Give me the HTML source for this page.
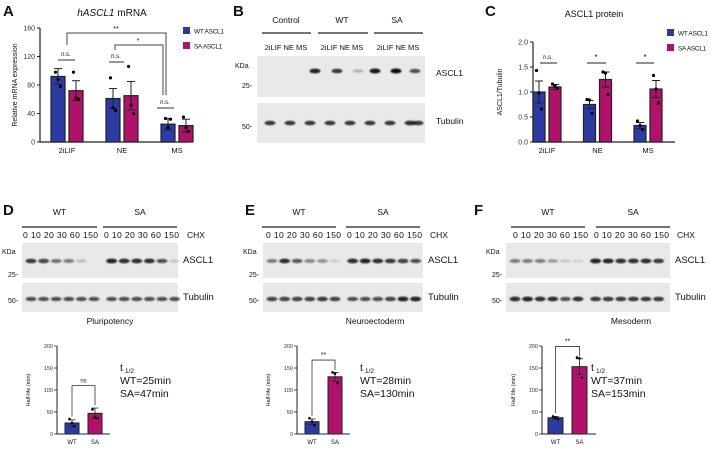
<!DOCTYPE html>
<html><head><meta charset="utf-8">
<style>
html,body{margin:0;padding:0;background:#fff;}
svg{display:block;font-family:"Liberation Sans",Arial,sans-serif;}
</style></head>
<body>
<svg id="fig" width="711" height="449" viewBox="0 0 711 449" xmlns="http://www.w3.org/2000/svg">
<defs>
<filter id="blur" x="-20%" y="-100%" width="140%" height="300%"><feGaussianBlur stdDeviation="0.8"/></filter>
</defs>
<g id="root"></g>
</svg>
<script>
// ---------- data ----------
const catsA = ["2iLIF","NE","MS"];
const wtA = [92, 61, 25];
const saA = [72, 65, 23];
const wtAErr = [11, 14, 8];
const saAErr = [14, 20, 9];
const wtADots = [[98,88,78],[90,48,44],[33,20,32]];
const saADots = [[98,62,60],[106,52,40],[35,20,15]];
const ticksA = [0,40,80,120,160];

const catsC = ["2iLIF","NE","MS"];
const wtC = [1.0, 0.75, 0.33];
const saC = [1.1, 1.25, 1.06];
const wtCErr = [0.22, 0.08, 0.06];
const saCErr = [0.05, 0.15, 0.17];
const wtCDots = [[1.43,0.98,0.66],[0.85,0.84,0.57],[0.42,0.33,0.25]];
const saCDots = [[1.16,1.12,1.08],[1.4,1.38,0.95],[1.33,1.06,0.78]];
const ticksC = [0,0.5,1.0,1.5,2.0];

const halfCats = ["WT","SA"];
const halfD = [25, 47];
const halfE = [28, 130];
const halfF = [37, 153];
const halfDErr = [7, 12];
const halfEErr = [6, 10];
const halfFErr = [3, 18];
const halfDDots = [[34,25,18],[56,38,36]];
const halfEDots = [[36,28,20],[140,137,116]];
const halfFDots = [[40,37,34],[174,172,128]];
const halfTicks = [0,50,100,150,200];

// blot band intensities (0..1)
const blotB_ascl = [0,0,0,0.9,0.8,0.25,0.95,1,0.7];
const blotB_tub = [0.8,0.8,0.8,0.8,0.8,0.8,0.8,0.85,0.8];
const blotD_ascl = [0.8,0.75,0.55,0.5,0.2,0,0.9,0.85,0.85,0.85,0.7,0.15];
const blotD_tub = [0.7,0.7,0.7,0.7,0.7,0.7,0.7,0.7,0.7,0.7,0.7,0.7];
const blotE_ascl = [0.5,0.85,0.65,0.45,0.4,0.12,0.85,0.9,0.85,0.8,0.75,0.7];
const blotE_tub = [0.75,0.75,0.75,0.75,0.8,0.75,0.7,0.7,0.7,0.75,0.9,0.9];
const blotF_ascl = [0.5,0.5,0.5,0.35,0.15,0.1,0.9,0.9,0.85,0.85,0.85,0.8];
const blotF_tub = [0.85,0.9,0.85,0.85,0.7,0.85,0.8,0.8,0.8,0.8,0.8,0.8];

const BLUE = "#2c3aa4", MAG = "#b3106c";
// ---------- helpers ----------
const NS = "http://www.w3.org/2000/svg";
const root = document.getElementById("root");
function el(tag, attrs, parent, text){
  const e = document.createElementNS(NS, tag);
  for (const k in attrs) e.setAttribute(k, attrs[k]);
  if (text !== undefined) e.textContent = text;
  (parent || root).appendChild(e);
  return e;
}
function txt(x,y,s,size,opts){
  const o = Object.assign({x:x,y:y,"font-size":size,fill:"#111"}, opts||{});
  const t = el("text", o, null, s);
  
  
  return t;
}
function line(x1,y1,x2,y2,w,c){
  return el("line",{x1:x1,y1:y1,x2:x2,y2:y2,stroke:c||"#222","stroke-width":w||1});
}

function groupChart(cfg, cats, wt, sa, wtE, saE, wtD, saD, ticks){
  const g = el("g",{});
  
  
  const y = v => cfg.y0 - (v - ticks[0])/(ticks[ticks.length-1]-ticks[0])*(cfg.y0-cfg.y1);
  line(cfg.ax, cfg.y1, cfg.ax, cfg.y0+0.5, 1.2);
  line(cfg.ax, cfg.y0, cfg.axEnd, cfg.y0, 1.2);
  ticks.forEach(t=>{
    line(cfg.ax-3, y(t), cfg.ax, y(t), 1);
    txt(cfg.ax-5, y(t)+2.5, cfg.fmt(t), 7, {"text-anchor":"end",fill:"#333"});
  });
  cats.forEach((c,i)=>{
    const cx = cfg.c0 + i*cfg.step;
    [[wt,wtE,wtD,BLUE,-1],[sa,saE,saD,MAG,1]].forEach(([vals,errs,dots,col,side])=>{
      const bx = side<0 ? cx - cfg.gap/2 - cfg.bw : cx + cfg.gap/2;
      const r = el("rect",{x:bx,y:y(vals[i]),width:cfg.bw,height:cfg.y0-y(vals[i]),fill:col,stroke:"#222","stroke-width":1.2});
      
      
      const mx = bx + cfg.bw/2;
      line(mx, y(vals[i]-errs[i]), mx, y(vals[i]+errs[i]), 1);
      line(mx-4, y(vals[i]+errs[i]), mx+4, y(vals[i]+errs[i]), 1);
      line(mx-4, y(vals[i]-errs[i]), mx+4, y(vals[i]-errs[i]), 1);
      dots[i].forEach((d,k)=>{
        const dd = el("circle",{cx:mx+(k-1)*2.5,cy:y(d),r:1.6,fill:"#000"});
        
        
      });
    });
    txt(cx, cfg.y0+11, c, 7.5, {"text-anchor":"middle"});
  });
  const yl = txt(0,0,cfg.ylab,7,{"text-anchor":"middle",transform:`translate(${cfg.ylx},${(cfg.y0+cfg.y1)/2}) rotate(-90)`});
  
  [["WT ASCL1",BLUE],["SA ASCL1",MAG]].forEach(([s,col],k)=>{
    const r = el("rect",{x:cfg.lx,y:cfg.ly+k*15-4,width:7,height:7,fill:col});
    
    
    txt(cfg.lx+11, cfg.ly+k*15+2.5, s, 6.5, {"letter-spacing":"-0.3"});
  });
  return y;
}

function halfChart(ox, ax, axEnd, b0, bw, vals, errs, dots, sig, name){
  const y0=434, y1=346;
  const y = v => y0 - v/200*(y0 - y1);
  line(ax, y1, ax, y0+0.5, 1);
  line(ax, y0, axEnd, y0, 1);
  halfTicks.forEach(t=>{
    line(ax-3, y(t), ax, y(t), 0.8);
    txt(ax-4, y(t)+2, String(t), 5.5, {"text-anchor":"end",fill:"#333"});
  });
  txt(0,0,name==="f"?"Half life (min)":"Half-life (min)",5.5,{"text-anchor":"middle",transform:`translate(${ax-27},${(y0+y1)/2}) rotate(-90)`});
  const centers=[];
  halfCats.forEach((c,i)=>{
    const bx = b0 + i*(bw+9);
    const col = i===0?BLUE:MAG;
    const r = el("rect",{x:bx,y:y(vals[i]),width:bw,height:y0-y(vals[i]),fill:col,stroke:"#222","stroke-width":1});
    
    
    const mx = bx+bw/2; centers.push(mx);
    line(mx, y(vals[i]-errs[i]), mx, y(vals[i]+errs[i]), 0.8);
    line(mx-3.5, y(vals[i]+errs[i]), mx+3.5, y(vals[i]+errs[i]), 0.8);
    line(mx-3.5, y(vals[i]-errs[i]), mx+3.5, y(vals[i]-errs[i]), 0.8);
    dots[i].forEach((d,k)=>{
      const dd = el("circle",{cx:mx+(k-1)*2.5,cy:y(d),r:1.3,fill:"#000"});
      
      
    });
    txt(mx, y0+10, c, 6, {"text-anchor":"middle"});
  });
  const top = y(Math.max(vals[0]+errs[0], vals[1]+errs[1]) + 28);
  const topC = Math.min(top, y(110));
  el("polyline",{points:`${centers[0]},${y(vals[0]+errs[0]+8)} ${centers[0]},${topC} ${centers[1]},${topC} ${centers[1]},${y(vals[1]+errs[1]+6)}`,fill:"none",stroke:"#333","stroke-width":0.8});
  txt((centers[0]+centers[1])/2, topC-3, sig, sig==="ns"?6:7, {"text-anchor":"middle"});
  txt(ox+120, 371, "t", 10.5); txt(ox+125, 373, "1/2", 6.5);
  txt(ox+120, 384, "WT="+vals[0]+"min", 10.5);
  txt(ox+120, 397, "SA="+vals[1]+"min", 10.5);
}

function blot(x1,x2,yTop,yBot,bandY,ints,lanes,name){
  const r = el("rect",{x:x1,y:yTop,width:x2-x1,height:yBot-yTop,fill:"#e9e9e9"});
  
  
  ints.forEach((v,i)=>{
    if (v<=0) return;
    el("ellipse",{cx:lanes[i],cy:bandY,rx:5.5,ry:1.4+v*1.1,fill:"#111",opacity:v,filter:"url(#blur)"});
  });
}
function laneXs(start, step, n, gapIdx, gap){
  const a=[]; for(let i=0;i<n;i++) a.push(start+i*step+(i>=gapIdx?gap:0)); return a;
}

// ---------- Panel letters ----------
[["A",3,16],["B",233,16],["C",485,16],["D",3,215],["E",245,215],["F",474,215]].forEach(([s,x,yy])=>{
  const t = txt(x,yy,s,15,{"font-weight":"bold"});
  
});

// ---------- Panel A ----------
const tA = el("text",{x:112,y:16,"font-size":10,"text-anchor":"middle",fill:"#111"});
 
el("tspan",{"font-style":"italic"},tA,"hASCL1");
el("tspan",{},tA," mRNA");
groupChart({name:"chart-a",ax:40,axEnd:188,y0:142,y1:28,c0:67,step:55,bw:14,gap:4,fmt:t=>String(t),ylab:"Relative mRNA expression",ylx:17,lx:183,ly:31},
  catsA, wtA, saA, wtAErr, saAErr, wtADots, saADots, ticksA);
el("polyline",{points:"67,45 67,33 166,33 166,95",fill:"none",stroke:"#444","stroke-width":1});
el("polyline",{points:"115,50 115,45 163,45 163,95",fill:"none",stroke:"#444","stroke-width":1});
txt(116,31,"**",7,{"text-anchor":"middle"});
txt(138,43,"*",7,{"text-anchor":"middle"});
line(58,60,75,60,1,"#333"); txt(66,56,"n.s.",6,{"text-anchor":"middle"});
line(109,62,124,62,1,"#333"); txt(116,58,"n.s.",6,{"text-anchor":"middle"});
line(157,108,174,108,1,"#333"); txt(165,104,"n.s.",6,{"text-anchor":"middle"});

// ---------- Panel B ----------
txt(286,23,"Control",8.5,{"text-anchor":"middle"});
txt(342,23,"WT",8.5,{"text-anchor":"middle"});
txt(397,23,"SA",8.5,{"text-anchor":"middle"});
line(262,33,311,33,1.3); line(318,33,368,33,1.3); line(374,33,423,33,1.3);
["2iLIF NE MS","2iLIF NE MS","2iLIF NE MS"].forEach((s,i)=>txt(286+i*56,50,s,7.5,{"text-anchor":"middle"}));
const lanesB = [264,281,298,315,337,358,375,396,415];
blot(257,425,56,97,71,blotB_ascl,lanesB,"blot-b-ascl1");
blot(257,425,103,143,123,blotB_tub,[270,290,310,330,350,370,390,410,418],"blot-b-tubulin");
txt(235,68,"KDa",7); txt(242,88,"25-",7); txt(242,129,"50-",7);
txt(436,76,"ASCL1",8.5); txt(436,124,"Tubulin",8.5);

// ---------- Panel C ----------
txt(594,17,"ASCL1 protein",9,{"text-anchor":"middle"});
groupChart({name:"chart-c",ax:533,axEnd:675,y0:142,y1:42,c0:547,step:50.5,bw:12,gap:4,fmt:t=>t.toFixed(1),ylab:"ASCL1/Tubulin",ylx:502,lx:667,ly:33},
  catsC, wtC, saC, wtCErr, saCErr, wtCDots, saCDots, ticksC);
line(540,63,557,63,1,"#222"); txt(548,59,"n.s.",6,{"text-anchor":"middle"});
line(587,63,606,63,1,"#222"); txt(596,60,"*",8,{"text-anchor":"middle"});
line(636,63,654,63,1,"#222"); txt(645,60,"*",8,{"text-anchor":"middle"});

// ---------- Panels D/E/F ----------
function cxPanel(ox, bx1, bx2, l1, l2, numX, lab, labX, ascl, tub, nm){
  txt((l1[0]+l1[1])/2,215,"WT",8.5,{"text-anchor":"middle"});
  txt((l2[0]+l2[1])/2,215,"SA",8.5,{"text-anchor":"middle"});
  line(l1[0],227,l1[1],227,1.2); line(l2[0],227,l2[1],227,1.2);
  txt(numX,238,"0 10 20 30 60 150",8.6,{"textLength":75});
  txt(numX+81,238,"0 10 20 30 60 150",8.6,{"textLength":75});
  txt(numX+164,238,"CHX",8.5);
  const lanes = laneXs(bx1+9, 12.6, 12, 6, 5);
  blot(bx1,bx2,243,278,261,ascl,lanes,"blot-"+nm+"-ascl1");
  blot(bx1,bx2,283,312,299,tub,lanes,"blot-"+nm+"-tubulin");
  txt(bx1-20,254,"KDa",7); txt(bx1-14,277,"25-",7); txt(bx1-14,303,"50-",7);
  txt(bx2+5,263,"ASCL1",9.5); txt(bx2+5,300,"Tubulin",9.5);
  txt(labX,324,lab,8.5,{"text-anchor":"middle"});
}
cxPanel(0,22,178,[22,97],[103,177],23,"Pluripotency",110,blotD_ascl,blotD_tub,"d");
cxPanel(240,263,423,[262,336],[346,420],266,"Neuroectoderm",375,blotE_ascl,blotE_tub,"e");
cxPanel(471,506,670,[511,585],[596,670],513,"Mesoderm",631,blotF_ascl,blotF_tub,"f");

halfChart(0,57,110,65,14,halfD,halfDErr,halfDDots,"ns","d");
halfChart(240,297,350,305,14,halfE,halfEErr,halfEDots,"**","e");
halfChart(471,542,596,548,15,halfF,halfFErr,halfFDots,"**","f");
</script>
</body></html>
